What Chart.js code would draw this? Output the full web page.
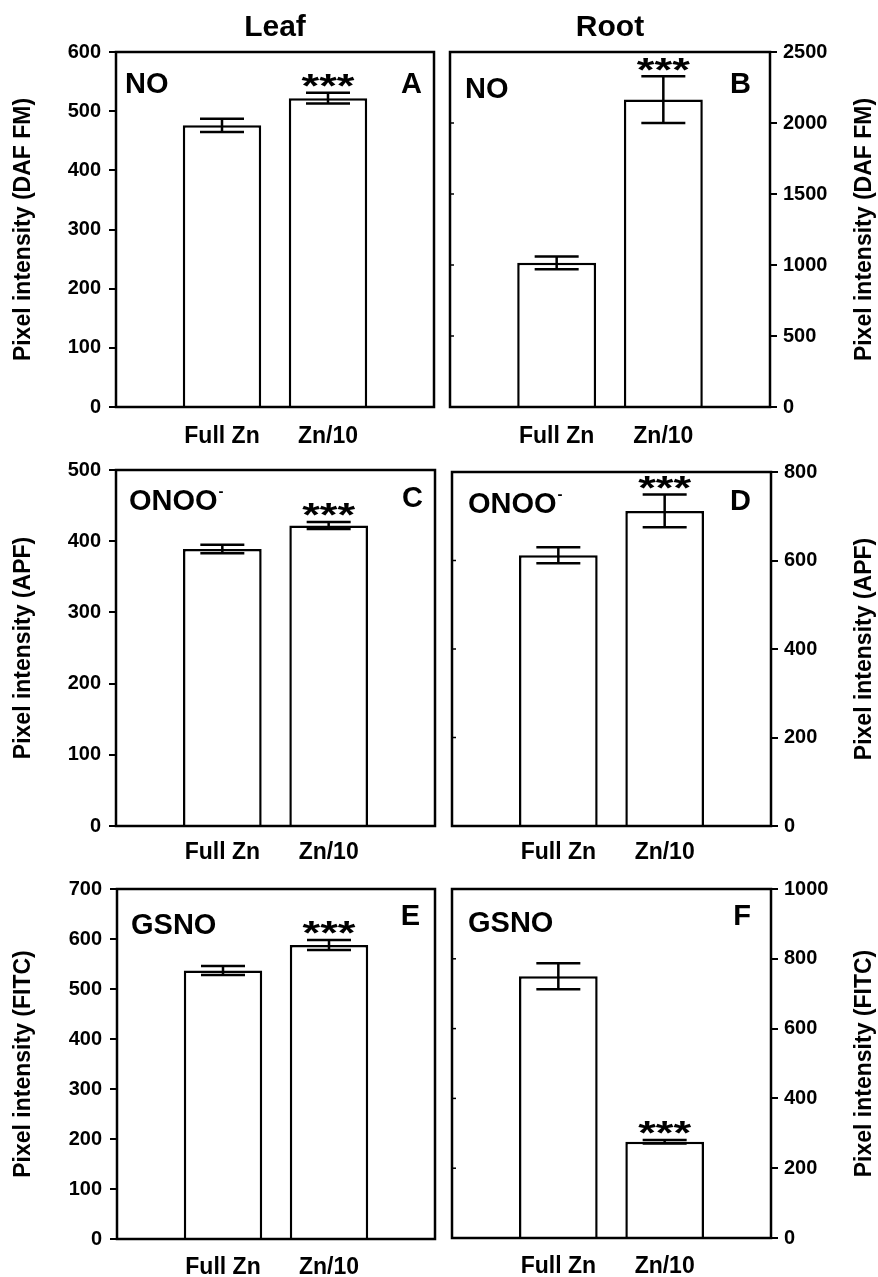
<!DOCTYPE html>
<html>
<head>
<meta charset="utf-8">
<script src="https://cdn.jsdelivr.net/npm/chart.js@4.4.0/dist/chart.umd.min.js"></script>
<style>
  html, body { margin: 0; padding: 0; background: #fff; }
  #fig { position: relative; width: 878px; height: 1277px; overflow: hidden; background: #fff; }
  #fig canvas { position: absolute; }
</style>
</head>
<body>
<div id="fig">
  <canvas id="cA" width="439" height="450" style="left:0;top:0"></canvas>
  <canvas id="cB" width="439" height="450" style="left:439px;top:0"></canvas>
  <canvas id="cC" width="439" height="418" style="left:0;top:450px"></canvas>
  <canvas id="cD" width="439" height="418" style="left:439px;top:450px"></canvas>
  <canvas id="cE" width="439" height="409" style="left:0;top:868px"></canvas>
  <canvas id="cF" width="439" height="409" style="left:439px;top:868px"></canvas>
</div>
<script>
// groups on the x axis
const groups = ['Full Zn', 'Zn/10'];

// means and error bars
const noLeaf = [476, 522];
const noLeafErr = [11, 9];
const noRoot = [1015, 2165];
const noRootErr = [45, 165];
const onooLeaf = [389, 422];
const onooLeafErr = [6, 5];
const onooRoot = [612, 712];
const onooRootErr = [18, 37];
const gsnoLeaf = [537, 588];
const gsnoLeafErr = [9, 10];
const gsnoRoot = [750, 276];
const gsnoRootErr = [37, 5];
const signif = ['', '***'];

// y axes
const yMax = [600, 2500, 500, 800, 700, 1000];
const yStep = [100, 500, 100, 200, 100, 200];
const yTitles = ['Pixel intensity (DAF FM)', 'Pixel intensity (APF)', 'Pixel intensity (FITC)'];

// panel labels
const species = ['NO', 'ONOO', 'GSNO'];
const speciesSup = ['', '-', ''];
const letters = ['A', 'B', 'C', 'D', 'E', 'F'];
const columns = ['Leaf', 'Root'];

const FONT = '"Liberation Sans", Arial, Helvetica, sans-serif';

// layout per panel (pixel placement only)
const panels = [
    { id: 'cA', val: noLeaf,   err: noLeafErr,   pad: { left: 0,  right: 5, top: 52 }, yw: 116, xh: 43, xl: 16, tag: [9, 41],  lt: [12, 41] },
    { id: 'cB', val: noRoot,   err: noRootErr,   pad: { left: 11, right: 0, top: 52 }, yw: 108, xh: 43, xl: 16, tag: [15, 46], lt: [19, 41] },
    { id: 'cC', val: onooLeaf, err: onooLeafErr, pad: { left: 0,  right: 4, top: 20 }, yw: 116, xh: 42, xl: 13, tag: [13, 40], lt: [12, 37] },
    { id: 'cD', val: onooRoot, err: onooRootErr, pad: { left: 13, right: 0, top: 22 }, yw: 107, xh: 42, xl: 13, tag: [16, 41], lt: [20, 38] },
    { id: 'cE', val: gsnoLeaf, err: gsnoLeafErr, pad: { left: 0,  right: 4, top: 21 }, yw: 117, xh: 38, xl: 15, tag: [14, 45], lt: [15, 36] },
    { id: 'cF', val: gsnoRoot, err: gsnoRootErr, pad: { left: 13, right: 0, top: 21 }, yw: 107, xh: 39, xl: 15, tag: [16, 43], lt: [20, 36] }
];

const panelText = {
    id: 'panelText',
    afterDatasetsDraw(chart, args, o) {
        const ctx = chart.ctx;
        const ys = chart.scales.y;
        const meta = chart.getDatasetMeta(0);
        ctx.save();
        ctx.strokeStyle = '#000';
        ctx.fillStyle = '#000';
        ctx.lineWidth = 2.5;
        o.val.forEach((v, i) => {
            const bar = meta.data[i + 1];
            const x = bar.x;
            const yt = ys.getPixelForValue(v + o.err[i]);
            const yb = ys.getPixelForValue(v - o.err[i]);
            ctx.beginPath();
            ctx.moveTo(x, yt); ctx.lineTo(x, yb);
            ctx.moveTo(x - 22, yt); ctx.lineTo(x + 22, yt);
            ctx.moveTo(x - 22, yb); ctx.lineTo(x + 22, yb);
            ctx.stroke();
            if (signif[i]) {
                // asterisks are wide and flat in the original
                ctx.save();
                ctx.font = 'bold 42px ' + FONT;
                ctx.textAlign = 'center';
                ctx.textBaseline = 'alphabetic';
                const m = ctx.measureText(signif[i]);
                ctx.translate(x, yt - 6);
                ctx.scale(1.08, 0.8);
                ctx.fillText(signif[i], 0, -m.actualBoundingBoxDescent);
                ctx.restore();
            }
        });
        ctx.restore();
    },
    afterDraw(chart, args, o) {
        const ctx = chart.ctx;
        const a = chart.chartArea;
        const ys = chart.scales.y;
        ctx.save();
        ctx.strokeStyle = '#000';
        ctx.fillStyle = '#000';
        ctx.lineWidth = 2.5;
        ctx.strokeRect(a.left, a.top, a.right - a.left, a.bottom - a.top);

        // small inner ticks on the left edge of root panels
        if (o.side === 'right') {
            ctx.lineWidth = 1.5;
            ys.ticks.forEach(t => {
                if (t.value <= 0 || t.value >= ys.max) return;
                const y = ys.getPixelForValue(t.value);
                ctx.beginPath();
                ctx.moveTo(a.left, y); ctx.lineTo(a.left + 4, y);
                ctx.stroke();
            });
        }

        // species label and superscript
        ctx.textBaseline = 'alphabetic';
        ctx.textAlign = 'left';
        ctx.font = 'bold 29px ' + FONT;
        const tx = a.left + o.tag[0], ty = a.top + o.tag[1];
        ctx.fillText(o.species, tx, ty);
        if (o.sup) {
            const w = ctx.measureText(o.species).width;
            ctx.font = 'bold 15px ' + FONT;
            ctx.fillText(o.sup, tx + w + 1, ty - 14);
        }

        // panel letter
        ctx.font = 'bold 29px ' + FONT;
        ctx.textAlign = 'right';
        ctx.fillText(o.letter, a.right - o.lt[0], a.top + o.lt[1]);

        // column heading
        if (o.column) {
            ctx.textAlign = 'center';
            ctx.font = 'bold 30px ' + FONT;
            ctx.fillText(o.column, (a.left + a.right) / 2, a.top - 16);
        }

        // axis title, reading bottom to top on both sides
        ctx.font = 'bold 23px ' + FONT;
        ctx.textAlign = 'center';
        ctx.textBaseline = 'middle';
        const x = o.side === 'left' ? 24 : 426;
        ctx.translate(x, (a.top + a.bottom) / 2);
        ctx.rotate(-Math.PI / 2);
        ctx.fillText(o.title, 0, 0);
        ctx.restore();
    }
};

panels.forEach((p, i) => {
    const side = i % 2 === 0 ? 'left' : 'right';
    const row = Math.floor(i / 2);
    new Chart(document.getElementById(p.id), {
        type: 'bar',
        data: {
            labels: ['', ...groups, ''],
            datasets: [{
                data: [null, ...p.val, null],
                backgroundColor: '#fff',
                borderColor: '#000',
                borderWidth: 2.5,
                categoryPercentage: 1,
                barPercentage: 0.74
            }]
        },
        options: {
            responsive: false,
            animation: false,
            events: [],
            layout: { padding: { left: p.pad.left, right: p.pad.right, top: p.pad.top, bottom: 0 } },
            plugins: {
                legend: { display: false },
                tooltip: { enabled: false },
                panelText: {
                    val: p.val, err: p.err, side: side,
                    species: species[row], sup: speciesSup[row], letter: letters[i],
                    column: row === 0 ? columns[i % 2] : '',
                    title: yTitles[row], tag: p.tag, lt: p.lt
                }
            },
            scales: {
                x: {
                    type: 'category',
                    offset: false,
                    grid: { display: false, drawTicks: true, tickLength: p.xl },
                    border: { display: false },
                    ticks: { color: '#000', font: { family: FONT, size: 23, weight: 'bold' }, padding: 0, autoSkip: false, maxRotation: 0 },
                    afterFit: s => { s.height = p.xh; }
                },
                y: {
                    position: side,
                    min: 0,
                    max: yMax[i],
                    ticks: {
                        stepSize: yStep[i], color: '#000',
                        font: { family: FONT, size: 20, weight: 'bold' },
                        padding: side === 'left' ? 8 : 6,
                        callback: v => String(v)
                    },
                    grid: { drawOnChartArea: false, drawTicks: true, tickLength: 7, color: '#000', lineWidth: 2 },
                    border: { display: false },
                    afterFit: s => { s.width = p.yw; }
                }
            }
        },
        plugins: [panelText]
    });
});
</script>
</body>
</html>
